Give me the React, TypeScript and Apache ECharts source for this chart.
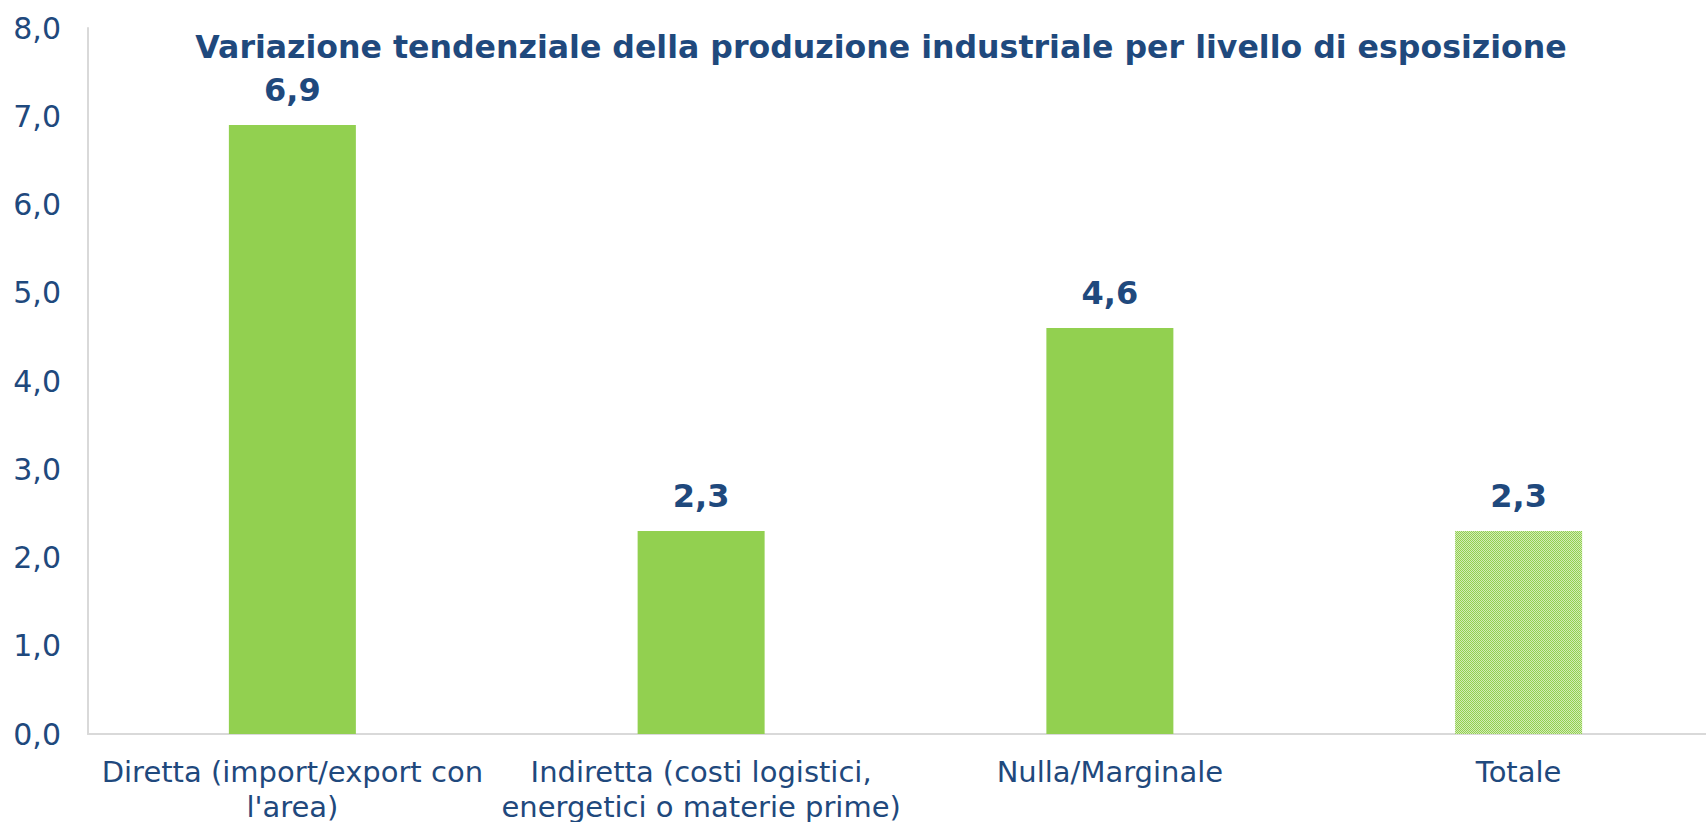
import React, { useEffect, useRef } from "react";
import * as echarts from "echarts";

const title = "Variazione tendenziale della produzione industriale per livello di esposizione";
const categories = [
  "Diretta (import/export con\nl'area)",
  "Indiretta (costi logistici,\nenergetici o materie prime)",
  "Nulla/Marginale",
  "Totale",
];
const values = [6.9, 2.3, 4.6, 2.3];
const patterned = [false, false, false, true];
const yTicks = { min: 0, max: 8, interval: 1 };

const GREEN = "#92D050";
const LIGHT_GREEN = "#D3ECB8";
const BLUE = "#1F497D";
const FONT = "DejaVu Sans";

function makePattern() {
  const c = document.createElement("canvas");
  c.width = 2;
  c.height = 2;
  const ctx = c.getContext("2d")!;
  ctx.fillStyle = LIGHT_GREEN;
  ctx.fillRect(0, 0, 2, 2);
  ctx.fillStyle = GREEN;
  ctx.fillRect(0, 0, 1, 1);
  ctx.fillRect(1, 1, 1, 1);
  return { image: c.toDataURL(), repeat: "repeat", imageWidth: 2, imageHeight: 2 } as any;
}

const fmt = (v: number) => v.toFixed(1).replace(".", ",");

export default function App() {
  const ref = useRef<HTMLDivElement>(null);
  useEffect(() => {
    if (!ref.current) return;
    const chart = echarts.init(ref.current, null, { renderer: "svg" });
    const pattern = makePattern();
    chart.setOption({
      animation: false,
      backgroundColor: "#ffffff",
      textStyle: { fontFamily: FONT },
      grid: { left: 88, right: -17, top: 28, bottom: 88, containLabel: false, outerBoundsMode: "none" },
      graphic: [
        {
          type: "text",
          x: 881,
          y: 47,
          style: {
            text: title,
            fill: BLUE,
            font: `bold 31.6px '${FONT}'`,
            align: "center",
            verticalAlign: "middle",
          },
        },
      ],
      xAxis: {
        type: "category",
        data: categories,
        axisTick: { show: false },
        axisLine: { lineStyle: { color: "#D9D9D9", width: 2 } },
        axisLabel: {
          color: BLUE,
          fontFamily: FONT,
          fontSize: 29,
          lineHeight: 35,
          margin: 20,
          interval: 0,
        },
      },
      yAxis: {
        type: "value",
        min: yTicks.min,
        max: yTicks.max,
        interval: yTicks.interval,
        splitLine: { show: false },
        axisTick: { show: false },
        axisLine: { show: true, lineStyle: { color: "#D9D9D9", width: 2 } },
        axisLabel: {
          color: BLUE,
          fontFamily: FONT,
          fontSize: 30,
          margin: 27,
          formatter: (v: number) => fmt(v),
        },
      },
      series: [
        {
          type: "bar",
          barWidth: 127,
          data: values.map((v, i) => ({
            value: v,
            itemStyle: { color: patterned[i] ? pattern : GREEN },
          })),
          label: {
            show: true,
            position: "top",
            distance: 19,
            color: BLUE,
            fontFamily: FONT,
            fontWeight: "bold",
            fontSize: 32,
            formatter: (p: any) => fmt(p.value),
          },
        },
      ],
    });
    return () => chart.dispose();
  }, []);
  return (
    <div
      ref={ref}
      style={{ position: "fixed", left: 0, top: 0, width: 1706, height: 822, background: "#fff" }}
    />
  );
}
